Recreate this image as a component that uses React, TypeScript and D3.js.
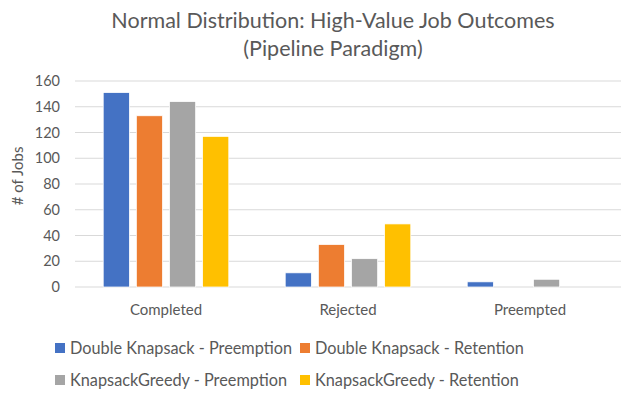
import React from "react";
import * as d3 from "d3";

const categories = ["Completed", "Rejected", "Preempted"];
const seriesNames = [
  "Double Knapsack - Preemption",
  "Double Knapsack - Retention",
  "KnapsackGreedy - Preemption",
  "KnapsackGreedy - Retention",
];
const doubleKnapsackPreemption = [151, 11, 4];
const doubleKnapsackRetention = [133, 33, 0];
const knapsackGreedyPreemption = [144, 22, 6];
const knapsackGreedyRetention = [117, 49, 0];
const yTicks = [0, 20, 40, 60, 80, 100, 120, 140, 160];

const colors = ["#4472C4", "#ED7D31", "#A5A5A5", "#FFC000"];
const font = "Lato, 'Open Sans', sans-serif";
const textColor = "#595959";

export default function App() {
  const width = 628;
  const height = 394;
  const left = 75;
  const right = 621;
  const top = 81;
  const bottom = 287;

  const values = [
    doubleKnapsackPreemption,
    doubleKnapsackRetention,
    knapsackGreedyPreemption,
    knapsackGreedyRetention,
  ];

  const x0 = d3
    .scaleBand<string>()
    .domain(categories)
    .range([left, right])
    .paddingInner(0.31)
    .paddingOuter(0.155);
  const x1 = d3
    .scaleBand<string>()
    .domain(seriesNames)
    .range([0, x0.bandwidth()])
    .paddingInner(0.21);
  const y = d3.scaleLinear().domain([0, 160]).range([bottom, top]);

  const legendPos = [
    [55, 348],
    [300, 348],
    [55, 380],
    [300, 380],
  ];

  return (
    <svg width={width} height={height} style={{ position: "absolute", left: 0, top: 0 }}>
      <rect width={width} height={height} fill="#fff" />
      <text x={333} y={28} textAnchor="middle" fontFamily={font} fontSize={21.5} fill={textColor}>
        Normal Distribution: High-Value Job Outcomes
      </text>
      <text x={333} y={56} textAnchor="middle" fontFamily={font} fontSize={21.5} fill={textColor}>
        (Pipeline Paradigm)
      </text>

      {yTicks.map((t) => (
        <g key={t}>
          <line x1={left} x2={right} y1={y(t)} y2={y(t)} stroke="#d9d9d9" strokeWidth={1} />
          <text x={60} y={y(t)} dy="0.35em" textAnchor="end" fontFamily={font} fontSize={14.5} fill={textColor}>
            {t}
          </text>
        </g>
      ))}

      <text
        transform={`translate(23,176) rotate(-90)`}
        textAnchor="middle"
        fontFamily={font}
        fontSize={15}
        fill={textColor}
      >
        # of Jobs
      </text>

      {categories.map((c, ci) => (
        <g key={c} transform={`translate(${x0(c)},0)`}>
          {seriesNames.map((s, si) => {
            const v = values[si][ci];
            if (!v) return null;
            return (
              <rect
                key={s}
                x={x1(s)}
                y={y(v)}
                width={x1.bandwidth()}
                height={y(0) - y(v)}
                fill={colors[si]}
                stroke="#fff"
                strokeWidth={0.75}
              />
            );
          })}
          <text
            x={x0.bandwidth() / 2}
            y={315}
            textAnchor="middle"
            fontFamily={font}
            fontSize={15}
            fill={textColor}
          >
            {c}
          </text>
        </g>
      ))}

      {seriesNames.map((s, si) => (
        <g key={s} transform={`translate(${legendPos[si][0]},${legendPos[si][1]})`}>
          <rect x={0} y={-5} width={10} height={10} fill={colors[si]} />
          <text x={15} y={0} dy="0.35em" fontFamily={font} fontSize={16.3} fill={textColor}>
            {s}
          </text>
        </g>
      ))}
    </svg>
  );
}
